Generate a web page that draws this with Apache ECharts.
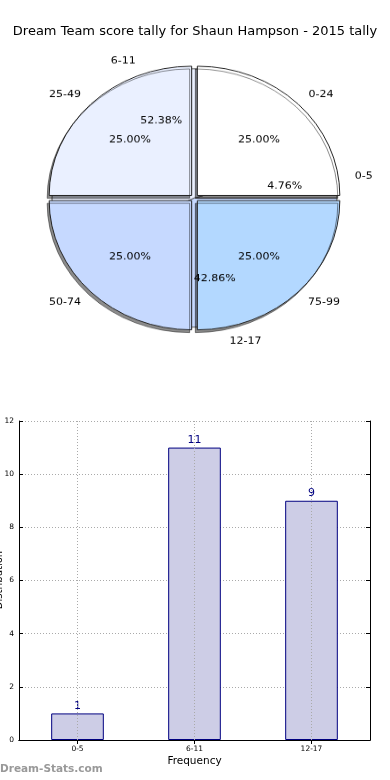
<!DOCTYPE html>
<html>
<head>
<meta charset="utf-8">
<script src="https://cdn.jsdelivr.net/npm/echarts@6/dist/echarts.min.js"></script>
<style>
html,body{margin:0;padding:0;background:#fff;}
#main{position:absolute;left:0;top:0;width:390px;height:780px;}
#pie{position:absolute;left:0;top:0;width:390px;height:420px;transform:scaleY(0.907);transform-origin:0 0;pointer-events:none;}
</style>
</head>
<body>
<div id="main"></div>
<div id="pie"></div>
<script>
// ---- data ----
const titleText = 'Dream Team score tally for Shaun Hampson - 2015 tally';
const quarterCats = ['0-24', '25-49', '50-74', '75-99'];
const quarterVals = [25, 25, 25, 25];
const quarterColors = ['#ffffff', '#eaf0ff', '#c6d9ff', '#b3d8ff'];
const freqCats = ['0-5', '6-11', '12-17'];
const freqVals = [1, 11, 9];
const freqColors = ['#ffffff', '#eaf0ff', '#c6d9ff'];
const yTicks = [0, 2, 4, 6, 8, 10, 12];

const FONT = 'DejaVu Sans';
const R = 142.5;
const LR = 159; // radius of the name-label anchor
const center = [194.5, 218.3];

function pct(p) { return p.percent.toFixed(2) + '%'; }

function items(cats, vals, colors, extra) {
  return cats.map((c, i) => Object.assign({
    name: c, value: vals[i],
    itemStyle: { color: colors[i] }
  }, extra || {}));
}

function pctRing(cats, vals) {
  return {
    type: 'pie', center: center, radius: [0.24 * R, R],
    startAngle: 0, clockwise: false, silent: true,
    emphasis: { disabled: true },
    itemStyle: { color: 'rgba(0,0,0,0)', borderWidth: 0 },
    label: { show: true, position: 'inside', color: '#000', fontFamily: FONT, fontSize: 11, formatter: pct },
    labelLine: { show: false },
    data: cats.map((c, i) => ({ name: c, value: vals[i] }))
  };
}

// name labels: anchored like matplotlib (left-aligned on right side, right-aligned on left side)
function nameRing(cats, vals) {
  const total = vals.reduce((a, b) => a + b, 0);
  let acc = 0;
  const data = cats.map((c, i) => {
    const mid = (acc + vals[i] / 2) / total * 2 * Math.PI;
    acc += vals[i];
    const w = c.length * 6.0;
    const pad = Math.cos(mid) >= 0 ? [0, 0, 0, w] : [0, w, 0, 0];
    return { name: c, value: vals[i], label: { padding: pad } };
  });
  return {
    type: 'pie', center: center, radius: [R, 2 * LR - R],
    startAngle: 0, clockwise: false, silent: true,
    emphasis: { disabled: true },
    itemStyle: { color: 'rgba(0,0,0,0)', borderWidth: 0 },
    label: { show: true, position: 'inside', color: '#000', fontFamily: FONT, fontSize: 11, formatter: '{b}' },
    labelLine: { show: false },
    data: data
  };
}

// ---- pie chart ----
const pie = echarts.init(document.getElementById('pie'), null, { renderer: 'canvas' });
pie.setOption({
  animation: false,
  series: [
    {
      type: 'pie', center: center, radius: R,
      startAngle: 0, clockwise: false, silent: true,
      emphasis: { disabled: true },
      itemStyle: { borderColor: '#555', borderWidth: 1 },
      label: { show: false }, labelLine: { show: false },
      data: items(freqCats, freqVals, freqColors)
    },
    {
      type: 'pie', center: center, radius: R,
      startAngle: 0, clockwise: false, silent: true,
      selectedMode: 'multiple', selectedOffset: 4,
      emphasis: { disabled: true },
      itemStyle: {
        borderColor: '#222', borderWidth: 1,
        shadowColor: 'rgba(0,0,0,0.45)', shadowBlur: 0, shadowOffsetX: -2, shadowOffsetY: 3
      },
      label: { show: false }, labelLine: { show: false },
      data: items(quarterCats, quarterVals, quarterColors, { selected: true })
    },
    pctRing(quarterCats, quarterVals),
    pctRing(freqCats, freqVals),
    nameRing(quarterCats, quarterVals),
    nameRing(freqCats, freqVals)
  ]
});

// ---- title + bar chart ----
const main = echarts.init(document.getElementById('main'), null, { renderer: 'canvas' });
const gridLine = { show: true, lineStyle: { color: '#aaa', type: [1, 2], width: 1 } };
main.setOption({
  animation: false,
  title: {
    text: titleText, left: 'center', top: 20,
    textStyle: { fontFamily: FONT, fontSize: 13, fontWeight: 'normal', color: '#000' }
  },
  grid: { left: 19, right: 20, top: 421, bottom: 40, show: false, containLabel: false, outerBoundsMode: 'none' },
  xAxis: [
    {
      type: 'category', data: freqCats, position: 'bottom',
      name: 'Frequency', nameLocation: 'middle', nameGap: 16,
      nameTextStyle: { fontFamily: FONT, fontSize: 10.5, color: '#000' },
      axisLine: { show: true, lineStyle: { color: '#000', width: 1 } },
      axisTick: { show: true, inside: true, alignWithLabel: true, length: 4, lineStyle: { color: '#000' } },
      axisLabel: { fontFamily: FONT, fontSize: 7.5, color: '#000', margin: 5 },
      splitLine: { show: false }
    },
    {
      type: 'category', data: freqCats, position: 'top',
      axisLine: { show: true, lineStyle: { color: '#000', width: 1 } },
      axisTick: { show: true, inside: true, alignWithLabel: true, length: 4, lineStyle: { color: '#000' } },
      axisLabel: { show: false }, splitLine: { show: false }
    }
  ],
  yAxis: [
    {
      type: 'value', min: yTicks[0], max: yTicks[yTicks.length - 1], interval: yTicks[1] - yTicks[0],
      position: 'left',
      axisLine: { show: true, lineStyle: { color: '#000', width: 1 } },
      axisTick: { show: true, inside: true, length: 4, lineStyle: { color: '#000' } },
      axisLabel: { fontFamily: FONT, fontSize: 7.5, color: '#000', margin: 5 },
      splitLine: gridLine
    },
    {
      type: 'value', min: yTicks[0], max: yTicks[yTicks.length - 1], interval: yTicks[1] - yTicks[0],
      position: 'right',
      axisLine: { show: true, lineStyle: { color: '#000', width: 1 } },
      axisTick: { show: true, inside: true, length: 4, lineStyle: { color: '#000' } },
      axisLabel: { show: false }, splitLine: { show: false }
    }
  ],
  series: [{
    type: 'bar', data: freqVals, barWidth: '45%',
    xAxisIndex: 0, yAxisIndex: 0,
    itemStyle: { color: '#cdcde6', borderColor: '#000080', borderWidth: 1 },
    label: { show: true, position: 'top', distance: 2, color: '#000080', fontFamily: FONT, fontSize: 11 },
    markLine: {
      silent: true, symbol: ['none', 'none'], label: { show: false },
      lineStyle: { color: '#aaa', type: [1, 2], width: 1 },
      data: freqCats.map(c => ({ xAxis: c }))
    }
  }],
  graphic: [
    {
      type: 'text', x: -1, y: 580, rotation: Math.PI / 2,
      style: { text: 'Distribution', fontFamily: FONT, fontSize: 10, fill: '#000', align: 'center', verticalAlign: 'middle' }
    },
    {
      type: 'text', left: 0, top: 764,
      style: { text: 'Dream-Stats.com', fontFamily: FONT, fontSize: 10.5, fontWeight: 'bold', fill: '#999' }
    }
  ]
});
</script>
</body>
</html>
